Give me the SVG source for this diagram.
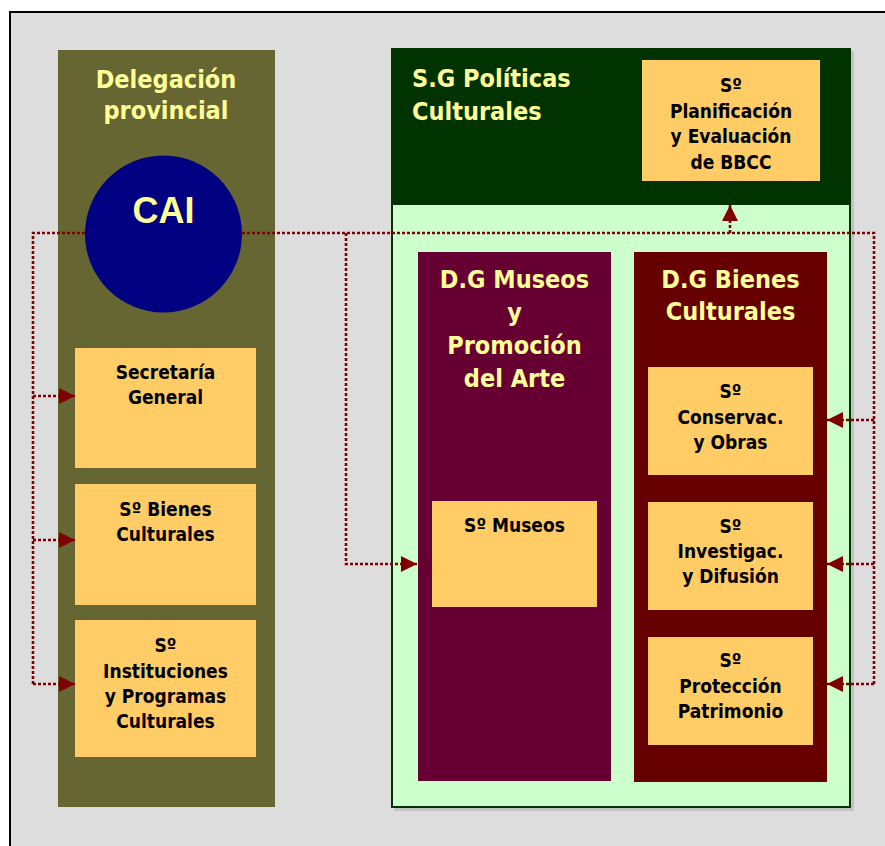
<svg xmlns="http://www.w3.org/2000/svg" width="885" height="846" viewBox="0 0 885 846">
<defs>
<style>
.h{font-family:"DejaVu Sans Condensed","DejaVu Sans",sans-serif;font-weight:bold;fill:#FFFF99;font-size:25px}
.t{font-family:"DejaVu Sans Condensed","DejaVu Sans",sans-serif;font-weight:bold;fill:#000;font-size:19px;text-anchor:middle}
.box{fill:#FFCC66}
.dot{fill:none;stroke:#800000;stroke-width:2.6;stroke-dasharray:3 2}
</style>
<marker id="ah" markerUnits="userSpaceOnUse" markerWidth="18" markerHeight="16" refX="16" refY="8" orient="auto">
<path d="M0,0 L16,8 L0,16 Z" fill="#800000"/>
</marker>
</defs>
<rect x="0" y="0" width="885" height="846" fill="#FFFFFF"/>
<rect x="10" y="12" width="900" height="860" fill="#DDDDDD" stroke="#000" stroke-width="2"/>

<g id="delegacion">
<rect x="58" y="50" width="217" height="757" fill="#666633"/>
<text class="h" x="166" y="88" text-anchor="middle">Delegación</text>
<text class="h" x="166" y="119" text-anchor="middle">provincial</text>
</g>
<g id="cai">
<circle cx="163.5" cy="234" r="78.5" fill="#000080"/>
<text x="163.5" y="223" text-anchor="middle" font-family="Liberation Sans, Arial, sans-serif" font-weight="bold" font-size="36" fill="#FFFF99">CAI</text>
</g>
<g id="secretaria">
<rect class="box" x="75" y="348" width="181" height="120"/>
<text class="t" x="165.5" y="379">Secretaría</text>
<text class="t" x="165.5" y="404">General</text>
</g>
<g id="bienes-culturales">
<rect class="box" x="75" y="484" width="181" height="121"/>
<text class="t" x="165.5" y="516">Sº Bienes</text>
<text class="t" x="165.5" y="541">Culturales</text>
</g>
<g id="instituciones">
<rect class="box" x="75" y="620" width="181" height="137"/>
<text class="t" x="165.5" y="652">Sº</text>
<text class="t" x="165.5" y="678">Instituciones</text>
<text class="t" x="165.5" y="703">y Programas</text>
<text class="t" x="165.5" y="728">Culturales</text>
</g>

<g id="sg-politicas">
<rect x="394" y="51" width="460" height="760" fill="#AAAAAA" opacity="0.5"/>
<rect x="391" y="48" width="460" height="760" fill="#003300"/>
<rect x="393" y="205" width="456" height="601" fill="#CCFFCC"/>
<text class="h" x="412" y="87">S.G Políticas</text>
<text class="h" x="412" y="120">Culturales</text>
</g>
<g id="planificacion">
<rect class="box" x="642" y="60" width="178" height="121"/>
<text class="t" x="731" y="92">Sº</text>
<text class="t" x="731" y="118">Planificación</text>
<text class="t" x="731" y="143">y Evaluación</text>
<text class="t" x="731" y="169">de BBCC</text>
</g>
<g id="dg-museos">
<rect x="418" y="252" width="193" height="529" fill="#660033"/>
<text class="h" x="514.5" y="288" text-anchor="middle">D.G Museos</text>
<text class="h" x="514.5" y="321" text-anchor="middle">y</text>
<text class="h" x="514.5" y="354" text-anchor="middle">Promoción</text>
<text class="h" x="514.5" y="387" text-anchor="middle">del Arte</text>
</g>
<g id="museos">
<rect class="box" x="432" y="501" width="165" height="106"/>
<text class="t" x="514.5" y="532">Sº Museos</text>
</g>
<g id="dg-bienes">
<rect x="634" y="252" width="193" height="530" fill="#660000"/>
<text class="h" x="730.5" y="288" text-anchor="middle">D.G Bienes</text>
<text class="h" x="730.5" y="320" text-anchor="middle">Culturales</text>
</g>
<g id="conservacion">
<rect class="box" x="648" y="367" width="165" height="108"/>
<text class="t" x="730.5" y="398">Sº</text>
<text class="t" x="730.5" y="424">Conservac.</text>
<text class="t" x="730.5" y="449">y Obras</text>
</g>
<g id="investigacion">
<rect class="box" x="648" y="502" width="165" height="108"/>
<text class="t" x="730.5" y="533">Sº</text>
<text class="t" x="730.5" y="558">Investigac.</text>
<text class="t" x="730.5" y="583">y Difusión</text>
</g>
<g id="proteccion">
<rect class="box" x="648" y="637" width="165" height="108"/>
<text class="t" x="730.5" y="667">Sº</text>
<text class="t" x="730.5" y="693">Protección</text>
<text class="t" x="730.5" y="718">Patrimonio</text>
</g>

<g id="connectors">
<path class="dot" d="M242,233 H874 V684"/>
<path class="dot" d="M85,233 H33 V684"/>
<path class="dot" d="M33,396 H75" marker-end="url(#ah)"/>
<path class="dot" d="M33,540 H75" marker-end="url(#ah)"/>
<path class="dot" d="M33,684 H75" marker-end="url(#ah)"/>
<path class="dot" d="M346,233 V564 H417" marker-end="url(#ah)"/>
<path class="dot" d="M730,233 V205" marker-end="url(#ah)"/>
<path class="dot" d="M874,420 H827" marker-end="url(#ah)"/>
<path class="dot" d="M874,564 H827" marker-end="url(#ah)"/>
<path class="dot" d="M874,684 H827" marker-end="url(#ah)"/>
</g>
</svg>
